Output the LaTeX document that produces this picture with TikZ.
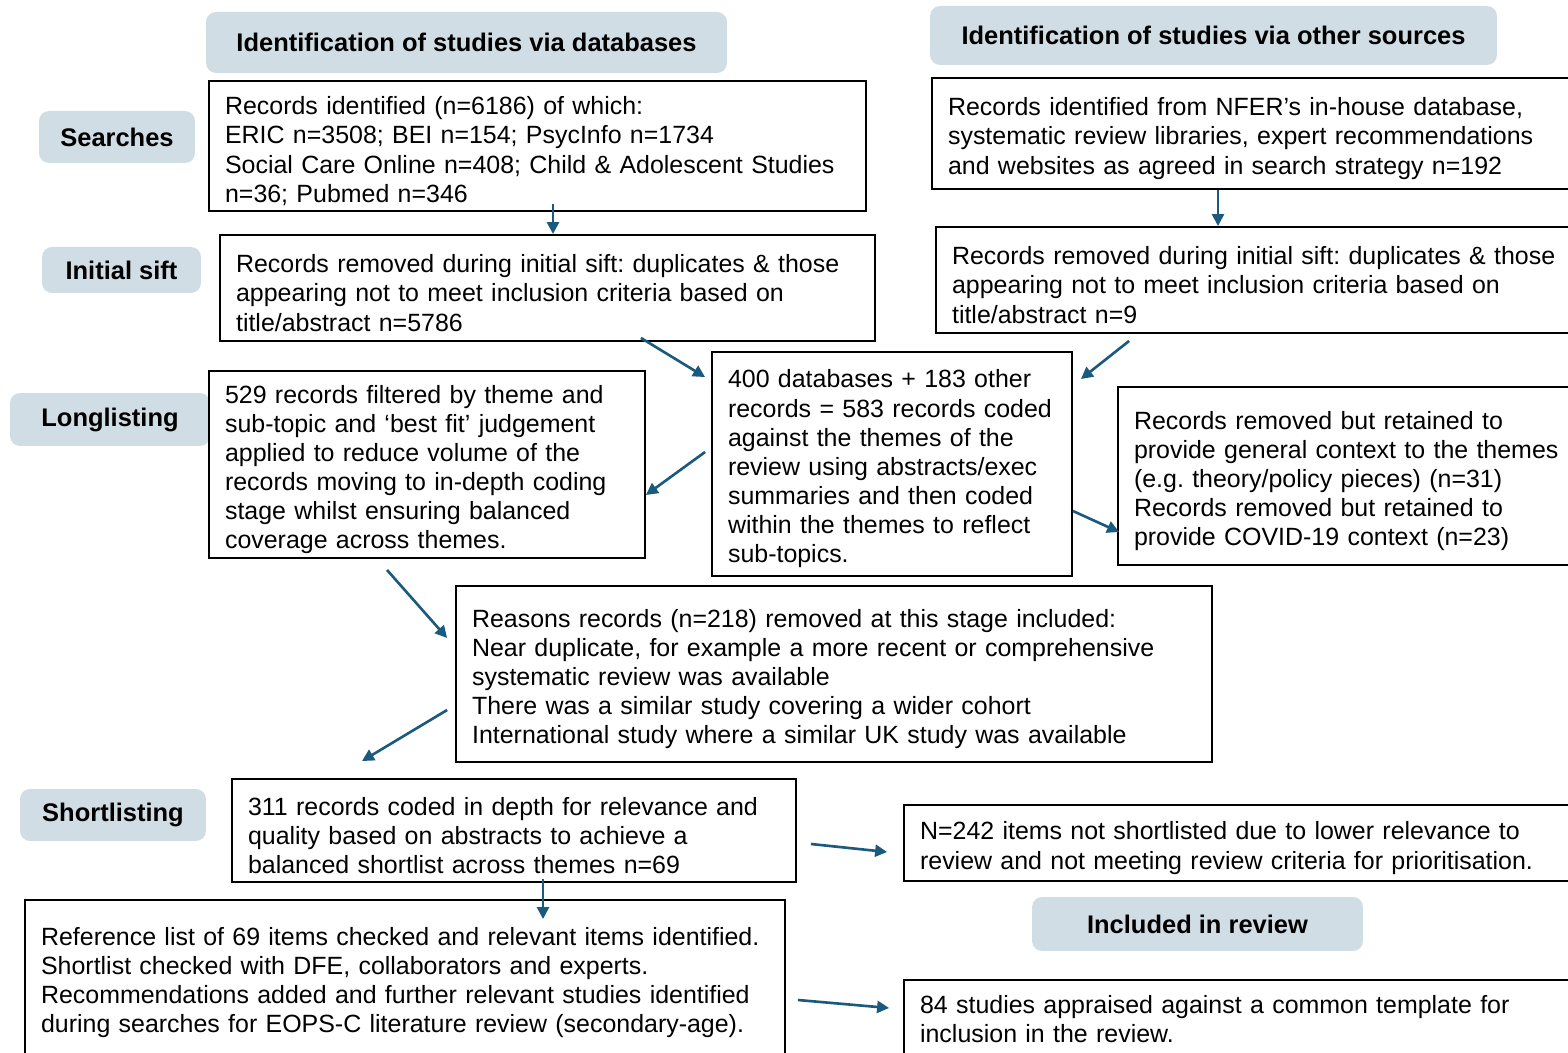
\documentclass[tikz,border=0pt]{standalone}
\usepackage{fontspec}
\setmainfont{Liberation Sans}
\usetikzlibrary{calc,arrows.meta}
\definecolor{tagfill}{RGB}{209,221,229}
\definecolor{arrblue}{RGB}{27,90,126}
\frenchspacing
\tikzset{
	box/.style={draw, line width=1.1pt, inner xsep=0.32cm, inner ysep=0pt, align=left,
		font=\fontsize{14.2}{16.6}\selectfont, text height=16pt},
	tag/.style={fill=tagfill, rounded corners=0.2cm, inner sep=0pt,
		font=\fontsize{14.5}{17}\selectfont\bfseries},
	arr/.style={draw=arrblue, line width=1.5pt, -{Triangle[length=0.24cm,width=0.24cm]}, arrblue}
}

\begin{document}
\begin{tikzpicture}[x=0.02cm, y=-0.02cm]
			%%%%% START %%%%%
			\useasboundingbox (0,0) rectangle (1568,1053);
			\clip (0,0) rectangle (1568,1053);
			
			% headings and stage tags
			\node[tag, minimum width=10.42cm, minimum height=1.22cm] (hdb) at (466.5,42.5) {Identification of studies via databases};
			\node[tag, minimum width=11.34cm, minimum height=1.18cm] (hot) at (1213.5,35.5) {Identification of studies via other sources};
			\node[tag, minimum width=3.12cm, minimum height=1.04cm] (tsearch) at (117,137) {Searches};
			\node[tag, minimum width=3.18cm, minimum height=0.92cm] (tsift) at (121.5,270) {Initial sift};
			\node[tag, minimum width=4.0cm, minimum height=1.06cm] (tlong) at (110,419.5) {Longlisting};
			\node[tag, minimum width=3.72cm, minimum height=1.04cm] (tshort) at (113,815) {Shortlisting};
			\node[tag, minimum width=6.62cm, minimum height=1.08cm] (tinc) at (1197.5,924) {Included in review};
			
			% database side
			\node[box, minimum width=13.14cm, minimum height=2.6cm, text width=12.5cm] (b1) at (537.5,146)
				{Records identified (n=6186) of which:\\ERIC n=3508; BEI n=154; PsycInfo n=1734\\Social Care Online n=408; Child \& Adolescent Studies\\n=36; Pubmed n=346};
			\node[box, minimum width=13.1cm, minimum height=2.12cm, text width=12.46cm] (b2) at (547.5,288)
				{Records removed during initial sift: duplicates \& those\\appearing not to meet inclusion criteria based on\\title/abstract n=5786};
			
			% other sources side
			\node[box, minimum width=13.36cm, minimum height=2.22cm, text width=12.72cm] (r1) at (1266,133.5)
				{Records identified from NFER’s in-house database,\\systematic review libraries, expert recommendations\\and websites as agreed in search strategy n=192};
			\node[box, minimum width=13.28cm, minimum height=2.12cm, text width=12.64cm] (r2) at (1268,280)
				{Records removed during initial sift: duplicates \& those\\appearing not to meet inclusion criteria based on\\title/abstract n=9};
			
			% longlisting
			\node[box, minimum width=7.2cm, minimum height=4.48cm, text width=6.56cm] (c) at (892,464)
				{400 databases + 183 other\\records = 583 records coded\\against the themes of the\\review using abstracts/exec\\summaries and then coded\\within the themes to reflect\\sub-topics.};
			\node[box, minimum width=8.72cm, minimum height=3.74cm, text width=8.08cm] (l) at (427,464.5)
				{529 records filtered by theme and\\sub-topic and ‘best fit’ judgement\\applied to reduce volume of the\\records moving to in-depth coding\\stage whilst ensuring balanced\\coverage across themes.};
			\node[box, minimum width=9.64cm, minimum height=3.56cm, text width=9.0cm] (rr) at (1359,476)
				{Records removed but retained to\\provide general context to the themes\\(e.g. theory/policy pieces) (n=31)\\Records removed but retained to\\provide COVID-19 context (n=23)};
			\node[box, minimum width=15.12cm, minimum height=3.52cm, text width=14.48cm] (rs) at (834,674)
				{Reasons records (n=218) removed at this stage included:\\Near duplicate, for example a more recent or comprehensive\\systematic review was available\\There was a similar study covering a wider cohort\\International study where a similar UK study was available};
			
			% shortlisting and inclusion
			\node[box, minimum width=11.28cm, minimum height=2.06cm, text width=10.64cm] (s) at (514,830.5)
				{311 records coded in depth for relevance and\\quality based on abstracts to achieve a\\balanced shortlist across themes n=69};
			\node[box, minimum width=13.92cm, minimum height=1.52cm, text width=13.28cm] (n) at (1252,843)
				{N=242 items not shortlisted due to lower relevance to\\review and not meeting review criteria for prioritisation.};
			\node[box, minimum width=15.2cm, minimum height=3.24cm, text width=14.56cm, text height=12pt] (ref) at (405,981)
				{Reference list of 69 items checked and relevant items identified.\\Shortlist checked with DFE, collaborators and experts.\\Recommendations added and further relevant studies identified\\during searches for EOPS-C literature review (secondary-age).};
			\node[box, minimum width=13.92cm, minimum height=1.56cm, text width=13.28cm, text height=10.5pt] (inc) at (1252,1019)
				{84 studies appraised against a common template for\\inclusion in the review.};
			
			% arrows
			\draw[arr] ($(b1.south)+(15.5,-8)$) -- ($(b2.north)+(5.5,0)$);
			\draw[arr] ($(r1.south)+(-48,0)$) -- ($(r2.north)+(-50,0)$);
			\draw[arr] ($(b2.south east)+(-235,-4)$) -- ($(c.north west)+(-6,26)$);
			\draw[arr] ($(r2.south west)+(194,7)$) -- ($(c.north east)+(8,28)$);
			\draw[arr] ($(c.west)+(-6,-12)$) -- ($(l.east)+(0,30.5)$);
			\draw[arr] ($(c.east)+(0,47)$) -- ($(rr.west)+(2,56)$);
			\draw[arr] ($(l.south)+(-40,11)$) -- ($(rs.west)+(-8,-36)$);
			\draw[arr] ($(rs.west)+(-8,36)$) -- ($(s.north)+(-152,-17)$);
			\draw[arr] ($(s.east)+(14,13.5)$) -- ($(n.west)+(-16,9)$);
			\draw[arr] ($(s.south)+(29,-4)$) -- ($(ref.north)+(138,20)$);
			\draw[arr] ($(ref.east)+(12,19)$) -- ($(inc.west)+(-14,-11)$);
			%%%%% END %%%%%
\end{tikzpicture}
\end{document}
